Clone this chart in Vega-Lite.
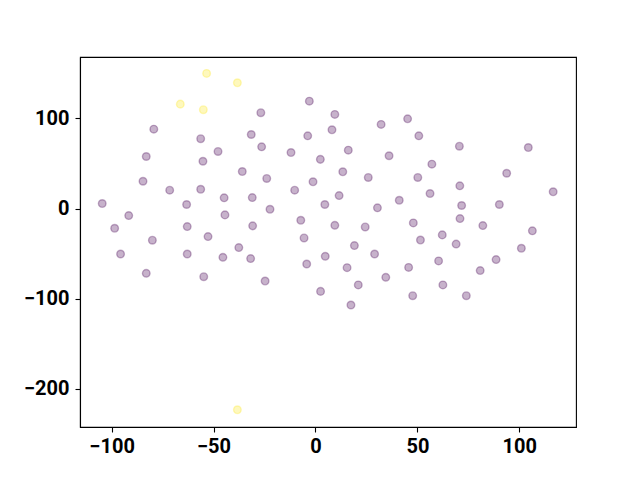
{
  "$schema": "https://vega.github.io/schema/vega-lite/v6.json",
  "width": 496,
  "height": 370,
  "autosize": {"type": "none"},
  "padding": {"left": 80, "top": 57, "right": 64, "bottom": 53},
  "background": "white",
  "config": {
    "view": {"stroke": "black", "strokeWidth": 1.1},
    "axis": {
      "grid": false,
      "labelFont": "Roboto",
      "labelFontWeight": "bold",
      "labelFontSize": 20,
      "labelColor": "black",
      "tickColor": "black",
      "tickSize": 5,
      "tickWidth": 1.1,
      "domainColor": "black",
      "domainWidth": 1.1,
      "title": null
    }
  },
  "data": {
    "values": [
      {"x": -3.0, "y": 119.2, "c": 0},
      {"x": -26.8, "y": 106.4, "c": 0},
      {"x": -79.3, "y": 88.1, "c": 0},
      {"x": -56.3, "y": 77.5, "c": 0},
      {"x": -31.5, "y": 82.2, "c": 0},
      {"x": -3.8, "y": 80.7, "c": 0},
      {"x": 8.1, "y": 87.4, "c": 0},
      {"x": -26.4, "y": 68.5, "c": 0},
      {"x": -47.8, "y": 63.4, "c": 0},
      {"x": -83.0, "y": 57.8, "c": 0},
      {"x": -55.2, "y": 52.5, "c": 0},
      {"x": -12.0, "y": 62.2, "c": 0},
      {"x": 2.4, "y": 54.6, "c": 0},
      {"x": -35.9, "y": 41.1, "c": 0},
      {"x": -23.9, "y": 33.4, "c": 0},
      {"x": -1.2, "y": 29.7, "c": 0},
      {"x": -84.6, "y": 30.3, "c": 0},
      {"x": -71.5, "y": 20.4, "c": 0},
      {"x": -56.3, "y": 21.4, "c": 0},
      {"x": -10.2, "y": 20.4, "c": 0},
      {"x": -104.6, "y": 5.6, "c": 0},
      {"x": -63.2, "y": 4.5, "c": 0},
      {"x": -44.8, "y": 11.9, "c": 0},
      {"x": -31.0, "y": 12.2, "c": 0},
      {"x": 4.6, "y": 4.5, "c": 0},
      {"x": -91.6, "y": -7.8, "c": 0},
      {"x": -44.4, "y": -7.0, "c": 0},
      {"x": -22.3, "y": -0.8, "c": 0},
      {"x": -98.5, "y": -21.9, "c": 0},
      {"x": -62.9, "y": -20.0, "c": 0},
      {"x": -30.8, "y": -19.2, "c": 0},
      {"x": -7.2, "y": -13.0, "c": 0},
      {"x": -80.0, "y": -35.1, "c": 0},
      {"x": -52.7, "y": -31.1, "c": 0},
      {"x": -37.6, "y": -43.3, "c": 0},
      {"x": -5.6, "y": -32.6, "c": 0},
      {"x": 9.5, "y": 104.5, "c": 0},
      {"x": 32.2, "y": 93.4, "c": 0},
      {"x": 45.2, "y": 99.6, "c": 0},
      {"x": 50.7, "y": 80.7, "c": 0},
      {"x": 70.6, "y": 69.2, "c": 0},
      {"x": 104.4, "y": 67.7, "c": 0},
      {"x": 16.1, "y": 64.8, "c": 0},
      {"x": 36.1, "y": 58.6, "c": 0},
      {"x": 57.1, "y": 49.3, "c": 0},
      {"x": 13.4, "y": 40.8, "c": 0},
      {"x": 25.9, "y": 34.5, "c": 0},
      {"x": 50.2, "y": 34.5, "c": 0},
      {"x": 93.8, "y": 39.2, "c": 0},
      {"x": 70.8, "y": 25.2, "c": 0},
      {"x": 11.6, "y": 14.4, "c": 0},
      {"x": 41.1, "y": 9.2, "c": 0},
      {"x": 56.2, "y": 16.7, "c": 0},
      {"x": 30.4, "y": 0.8, "c": 0},
      {"x": 71.7, "y": 3.4, "c": 0},
      {"x": 90.2, "y": 4.5, "c": 0},
      {"x": 116.6, "y": 18.6, "c": 0},
      {"x": 9.5, "y": -18.6, "c": 0},
      {"x": 24.4, "y": -20.4, "c": 0},
      {"x": 48.0, "y": -15.9, "c": 0},
      {"x": 70.9, "y": -11.1, "c": 0},
      {"x": 82.1, "y": -18.9, "c": 0},
      {"x": 106.4, "y": -24.7, "c": 0},
      {"x": 51.5, "y": -34.9, "c": 0},
      {"x": 62.2, "y": -29.2, "c": 0},
      {"x": 69.0, "y": -39.4, "c": 0},
      {"x": 19.1, "y": -41.1, "c": 0},
      {"x": 101.0, "y": -44.1, "c": 0},
      {"x": -95.6, "y": -50.4, "c": 0},
      {"x": -62.9, "y": -50.4, "c": 0},
      {"x": -45.4, "y": -54.1, "c": 0},
      {"x": -31.8, "y": -55.5, "c": 0},
      {"x": 4.8, "y": -53.0, "c": 0},
      {"x": -4.3, "y": -61.5, "c": 0},
      {"x": -83.0, "y": -71.9, "c": 0},
      {"x": -54.8, "y": -75.6, "c": 0},
      {"x": -24.7, "y": -80.4, "c": 0},
      {"x": 2.5, "y": -91.9, "c": 0},
      {"x": 29.0, "y": -50.4, "c": 0},
      {"x": 15.5, "y": -65.6, "c": 0},
      {"x": 21.0, "y": -84.7, "c": 0},
      {"x": 17.4, "y": -107.0, "c": 0},
      {"x": 34.5, "y": -76.3, "c": 0},
      {"x": 45.7, "y": -65.3, "c": 0},
      {"x": 60.4, "y": -58.1, "c": 0},
      {"x": 62.5, "y": -84.7, "c": 0},
      {"x": 47.7, "y": -96.7, "c": 0},
      {"x": 74.0, "y": -96.7, "c": 0},
      {"x": 80.8, "y": -68.8, "c": 0},
      {"x": 88.6, "y": -56.6, "c": 0},
      {"x": -53.4, "y": 150.0, "c": 1},
      {"x": -38.3, "y": 139.6, "c": 1},
      {"x": -66.3, "y": 115.9, "c": 1},
      {"x": -55.0, "y": 109.7, "c": 1},
      {"x": -38.3, "y": -223.3, "c": 1}
    ]
  },
  "mark": {"type": "circle", "size": 58, "fillOpacity": 0.3, "strokeOpacity": 0.3, "strokeWidth": 1.4, "opacity": 1},
  "encoding": {
    "x": {"field": "x", "type": "quantitative", "scale": {"domain": [-115.5, 127.8], "nice": false, "zero": false}, "axis": {"values": [-100, -50, 0, 50, 100], "labelPadding": 4}},
    "y": {"field": "y", "type": "quantitative", "scale": {"domain": [-242.4, 168.2], "nice": false, "zero": false}, "axis": {"values": [-200, -100, 0, 100], "labelPadding": 6}},
    "fill": {"field": "c", "type": "nominal", "scale": {"domain": [0, 1], "range": ["#440154", "#fde725"]}, "legend": null},
    "stroke": {"field": "c", "type": "nominal", "scale": {"domain": [0, 1], "range": ["#440154", "#fde725"]}, "legend": null}
  }
}
